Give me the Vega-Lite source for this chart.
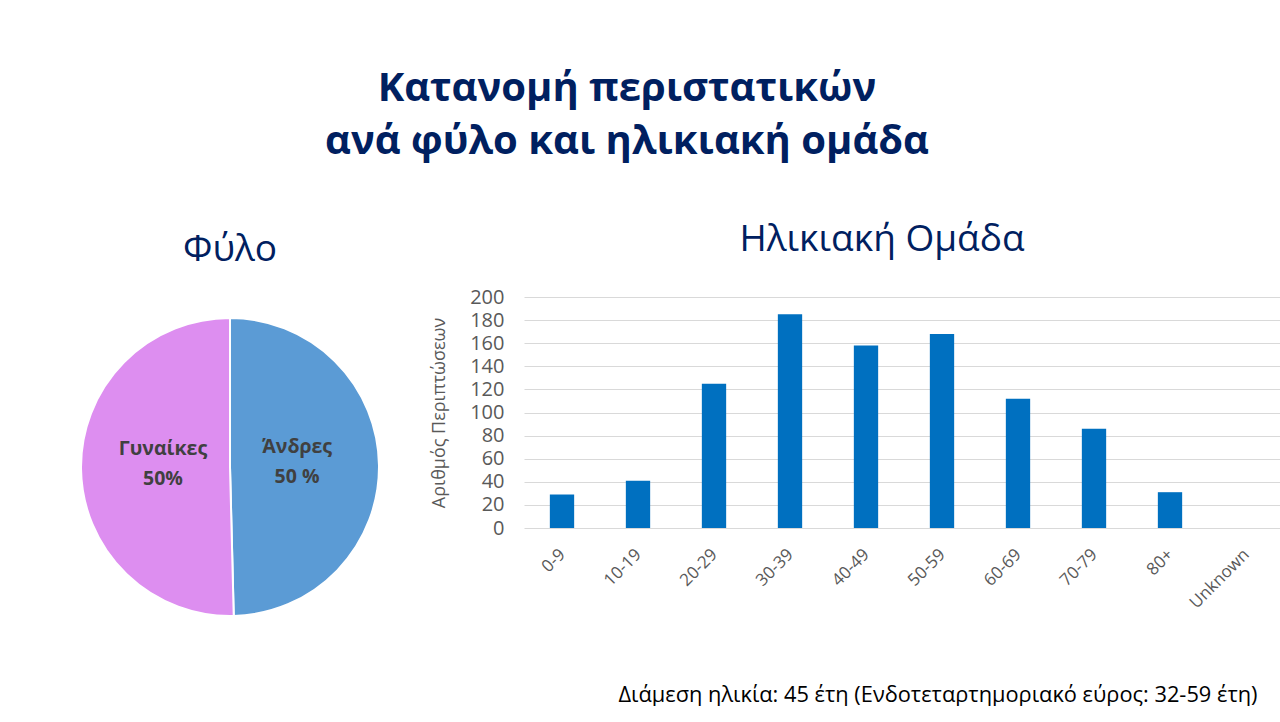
{
  "$schema": "https://vega.github.io/schema/vega-lite/v6.json",
  "background": "white",
  "autosize": {"type": "pad"},
  "padding": {"left": 77, "top": 69, "right": 0, "bottom": 0},
  "title": {
    "text": ["Κατανομή περιστατικών", "ανά φύλο και ηλικιακή ομάδα"],
    "font": "Open Sans",
    "fontSize": 40,
    "fontWeight": "bold",
    "color": "#002060",
    "lineHeight": 53,
    "anchor": "start",
    "align": "center",
    "dx": 547,
    "frame": "group",
    "offset": 59
  },
  "spacing": 144,
  "bounds": "flush",
  "hconcat": [
    {
      "width": 300,
      "height": 340,
      "title": {
        "text": "Φύλο",
        "font": "Open Sans",
        "fontSize": 37,
        "fontWeight": "normal",
        "color": "#002060",
        "anchor": "middle",
        "offset": 28
      },
      "data": {
        "values": [
          {"sex": "Άνδρες", "pct": 49.6, "ord": 1, "label": ["Άνδρες", "50 %"]},
          {"sex": "Γυναίκες", "pct": 50.4, "ord": 2, "label": ["Γυναίκες", "50%"]}
        ]
      },
      "encoding": {
        "theta": {"field": "pct", "type": "quantitative", "stack": true},
        "order": {"field": "ord", "type": "quantitative"}
      },
      "layer": [
        {
          "mark": {"type": "arc", "outerRadius": 149, "stroke": "white", "strokeWidth": 2},
          "encoding": {
            "color": {
              "field": "sex",
              "type": "nominal",
              "scale": {"domain": ["Άνδρες", "Γυναίκες"], "range": ["#5B9BD5", "#DD8EF0"]},
              "legend": null
            }
          }
        },
        {
          "mark": {"type": "text", "radius": 67, "font": "Open Sans", "fontSize": 19.5, "fontWeight": "bold", "color": "#404040", "lineHeight": 30, "dy": -19},
          "encoding": {"text": {"field": "label"}}
        }
      ]
    },
    {
      "width": 760,
      "height": 231,
      "title": {
        "text": "Ηλικιακή Ομάδα",
        "font": "Open Sans",
        "fontSize": 37,
        "fontWeight": "normal",
        "color": "#002060",
        "anchor": "middle",
        "dx": -22,
        "offset": 28
      },
      "data": {
        "values": [
          {"age": "0-9", "n": 29},
          {"age": "10-19", "n": 41},
          {"age": "20-29", "n": 125},
          {"age": "30-39", "n": 185},
          {"age": "40-49", "n": 158},
          {"age": "50-59", "n": 168},
          {"age": "60-69", "n": 112},
          {"age": "70-79", "n": 86},
          {"age": "80+", "n": 31},
          {"age": "Unknown", "n": 0}
        ]
      },
      "mark": {"type": "bar", "color": "#0070C0"},
      "encoding": {
        "x": {
          "field": "age",
          "type": "ordinal",
          "sort": null,
          "scale": {"paddingInner": 0.68, "paddingOuter": 0.34},
          "axis": {
            "labelAngle": -45,
            "labelFont": "Open Sans",
            "labelFontSize": 17,
            "labelColor": "#595959",
            "labelOffset": -5,
            "labelPadding": 18,
            "domain": false,
            "ticks": false,
            "title": "Διάμεση ηλικία: 45 έτη (Ενδοτεταρτημοριακό εύρος: 32-59 έτη)",
            "titleFont": "Open Sans",
            "titleFontSize": 21.8,
            "titleFontWeight": "normal",
            "titleColor": "#000000",
            "titleAnchor": "end",
            "titleAlign": "right",
            "titleX": 733,
            "titleY": 156
          }
        },
        "y": {
          "field": "n",
          "type": "quantitative",
          "scale": {"domain": [0, 200]},
          "axis": {
            "values": [0, 20, 40, 60, 80, 100, 120, 140, 160, 180, 200],
            "grid": true,
            "gridColor": "#D9D9D9",
            "domain": false,
            "ticks": false,
            "labelFont": "Open Sans",
            "labelFontSize": 20,
            "labelColor": "#595959",
            "labelPadding": 20,
            "title": "Αριθμός Περιπτώσεων",
            "titleFont": "Open Sans",
            "titleFontSize": 18,
            "titleFontWeight": "normal",
            "titleColor": "#595959",
            "titlePadding": 21
          }
        }
      }
    }
  ],
  "config": {"view": {"stroke": null}}
}
